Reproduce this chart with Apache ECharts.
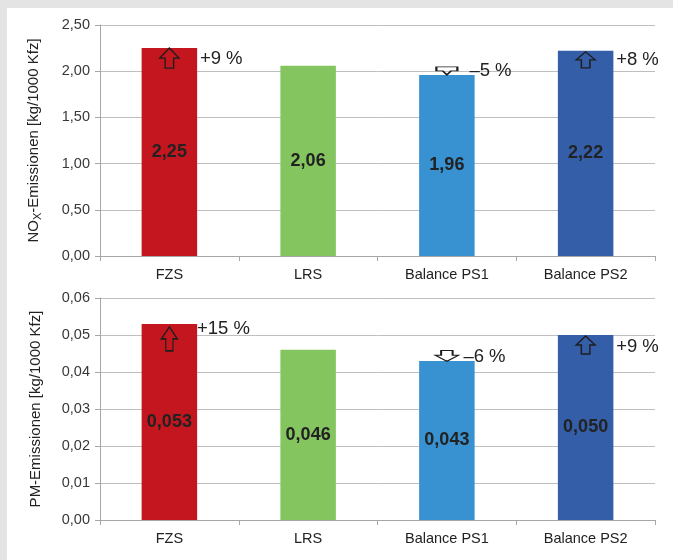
<!DOCTYPE html>
<html>
<head>
<meta charset="utf-8">
<script src="https://cdn.jsdelivr.net/npm/echarts@6/dist/echarts.min.js"></script>
<style>
  html, body { margin: 0; padding: 0; background: #e4e4e4; }
  #panel { position: absolute; left: 7px; top: 8px; right: 0; bottom: 0; background: #fff; }
  #chart { position: absolute; left: 0; top: 0; width: 673px; height: 560px; }
</style>
</head>
<body>
<div id="panel"></div>
<div id="chart"></div>
<script>
// Emission values per traffic control variant
const categories = ['FZS', 'LRS', 'Balance PS1', 'Balance PS2'];
const barColors = ['#c4161e', '#85c55f', '#3891d0', '#355ea8'];

const noxValues = [2.25, 2.06, 1.96, 2.22];
const pmValues = [0.053, 0.046, 0.043, 0.050];

// Relative change against LRS (null = reference)
const noxChange = ['+9 %', null, '–5 %', '+8 %'];
const pmChange = ['+15 %', null, '–6 %', '+9 %'];

// Value axis ranges: [min, max, interval, decimals]
const noxAxis = [0, 2.5, 0.5, 2];
const pmAxis = [0, 0.06, 0.01, 2];

// Arrow glyph sizes [w, h] and offsets from the bar top, per category
const noxArrowSize = [[19, 20], null, [21, 8], [19, 16]];
const noxArrowShift = [10, 0, -4, 9];
const pmArrowSize = [[16, 24], null, [23, 11], [19, 18]];
const pmArrowShift = [15, 0, -5, 10];
// Change text offsets [dx, dy] from the bar's top centre
const noxTextShift = [[31, 11], null, [23, -3], [31, 10]];
const pmTextShift = [[28, 6], null, [17, -3], [31, 12]];

const fmt = (d) => (v) => v.toFixed(d).replace('.', ',');
const upArrow = 'path://M10,0 L20,10 L14.5,10 L14.5,20 L5.5,20 L5.5,10 L0,10 Z';
const downArrowFlat = 'path://M0,0 L20,0 L20,5 L14,5 L10,10 L6,5 L0,5 Z';
const downArrow = 'path://M5,0 L15,0 L15,9 L20,9 L10,20 L0,9 L5,9 Z';

const textColor = '#222';
const axisGray = '#a6a6a6';
const font = 'Liberation Sans, Arial, sans-serif';

function valueAxis(gridIndex, range, name) {
  return {
    type: 'value', gridIndex,
    min: range[0], max: range[1], interval: range[2],
    name, nameLocation: 'middle', nameGap: 57,
    nameTextStyle: {
      color: textColor, fontSize: 15, fontFamily: font,
      rich: {
        n: { fontSize: 15, fontFamily: font, color: textColor },
        sub: { fontSize: 11, fontFamily: font, color: textColor, padding: [7, 0, 0, 0] }
      }
    },
    axisLine: { show: true, lineStyle: { color: axisGray } },
    axisTick: { show: true, length: 5, lineStyle: { color: axisGray } },
    splitLine: { show: true, lineStyle: { color: '#bfbfbf' } },
    axisLabel: { formatter: fmt(range[3]), color: '#383838', fontSize: 14.5, fontFamily: font, margin: 10 }
  };
}

function categoryAxis(gridIndex) {
  return {
    type: 'category', gridIndex, data: categories,
    axisLine: { lineStyle: { color: axisGray } },
    axisTick: { show: true, length: 5, alignWithLabel: false, lineStyle: { color: axisGray } },
    axisLabel: { color: textColor, fontSize: 14.5, fontFamily: font, margin: 11 },
    splitLine: { show: false }
  };
}

function barSeries(idx, values, decimals) {
  return {
    type: 'bar', xAxisIndex: idx, yAxisIndex: idx,
    barWidth: '40%',
    data: values.map((v, i) => ({ value: v, itemStyle: { color: barColors[i] } })),
    label: {
      show: true, position: 'inside', formatter: (p) => fmt(decimals)(p.value),
      color: textColor, fontSize: 18, fontWeight: 'bold', fontFamily: font
    },
    z: 2
  };
}

function arrowSeries(idx, values, changes, sizes, shifts) {
  const data = [];
  changes.forEach((c, i) => {
    if (!c) return;
    const up = c.charAt(0) === '+';
    const sz = sizes[i];
    data.push({
      value: [categories[i], values[i]],
      symbol: up ? upArrow : (sz[1] > 9 ? downArrow : downArrowFlat),
      symbolSize: sz,
      symbolOffset: [0, shifts[i]]
    });
  });
  return {
    type: 'scatter', xAxisIndex: idx, yAxisIndex: idx,
    symbolKeepAspect: false,
    itemStyle: { color: 'rgba(255,255,255,0)', borderColor: '#1e1e1e', borderWidth: 1.4, opacity: 1 },
    emphasis: { disabled: true },
    data, z: 5, silent: true
  };
}

function changeTextSeries(idx, values, changes, shifts) {
  const data = [];
  changes.forEach((c, i) => {
    if (!c) return;
    data.push({
      value: [categories[i], values[i]],
      label: { position: shifts[i], formatter: c, color: textColor, opacity: 1 }
    });
  });
  return {
    type: 'scatter', xAxisIndex: idx, yAxisIndex: idx,
    symbolSize: 1,
    itemStyle: { color: '#fff', opacity: 0 },
    label: {
      show: true, color: textColor, fontSize: 18.5, fontFamily: font,
      align: 'left', verticalAlign: 'middle', opacity: 1
    },
    emphasis: { disabled: true },
    data, z: 6, silent: true
  };
}

const chart = echarts.init(document.getElementById('chart'), null, { renderer: 'canvas' });
chart.setOption({
  backgroundColor: 'transparent',
  animation: false,
  grid: [
    { left: 100, right: 18, top: 25, bottom: 304 },
    { left: 100, right: 18, top: 298, bottom: 40 }
  ],
  xAxis: [categoryAxis(0), categoryAxis(1)],
  yAxis: [
    valueAxis(0, noxAxis, '{n|NO}{sub|X}{n|-Emissionen [kg/1000 Kfz]}'),
    valueAxis(1, pmAxis, 'PM-Emissionen [kg/1000 Kfz]')
  ],
  series: [
    barSeries(0, noxValues, 2),
    barSeries(1, pmValues, 3),
    arrowSeries(0, noxValues, noxChange, noxArrowSize, noxArrowShift),
    arrowSeries(1, pmValues, pmChange, pmArrowSize, pmArrowShift),
    changeTextSeries(0, noxValues, noxChange, noxTextShift),
    changeTextSeries(1, pmValues, pmChange, pmTextShift)
  ]
});
</script>
</body>
</html>
